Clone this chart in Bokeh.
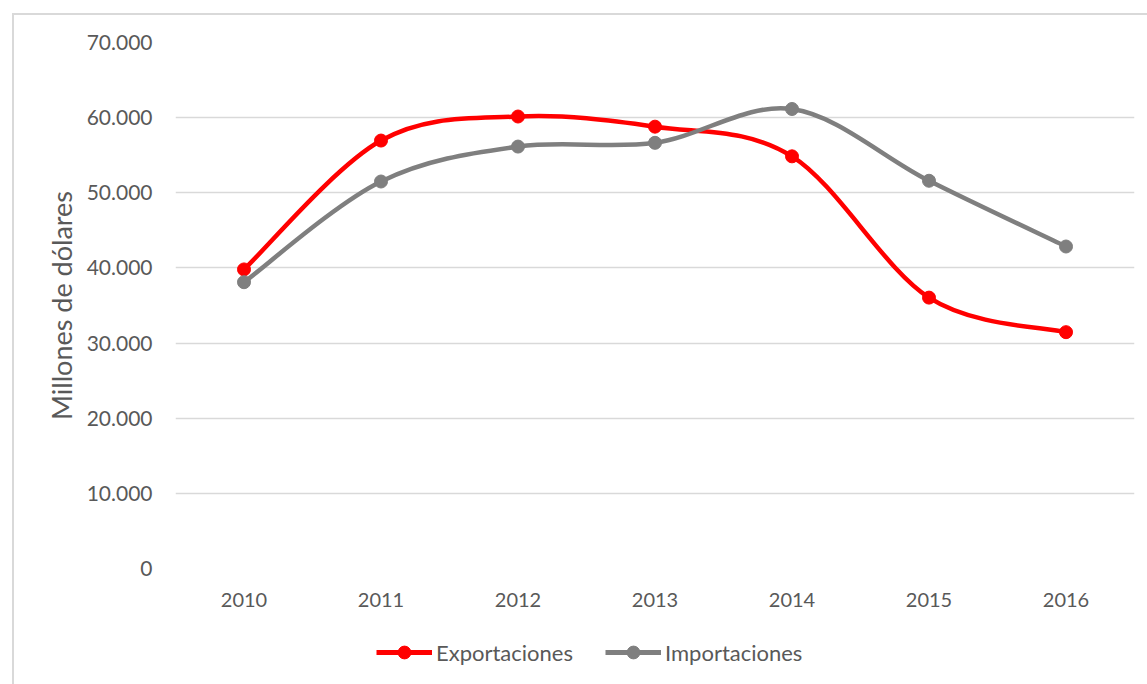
from bokeh.plotting import figure
from bokeh.layouts import column
from bokeh.models import Range1d, FixedTicker, Legend, LegendItem, ColumnDataSource
from bokeh.embed import file_html
from bokeh.resources import INLINE

years = ["2010", "2011", "2012", "2013", "2014", "2015", "2016"]
exportaciones = [39800, 56950, 60150, 58800, 54850, 36050, 31450]
importaciones = [38100, 51500, 56150, 56650, 61150, 51600, 42850]
y_ticks = [0, 10000, 20000, 30000, 40000, 50000, 60000, 70000]
y_tick_labels = ["0", "10.000", "20.000", "30.000", "40.000", "50.000", "60.000", "70.000"]

FONT = "Lato"
TXT = "#595959"
RED = "#FF0000"
GRAY = "#7F7F7F"
LW = 4.5
MS = 13


def smooth_segments(vals):
    # Excel-style smoothed line: cubic Bezier segments between consecutive points
    n = len(vals)
    xs = list(range(n))
    d = dict(x0=[], y0=[], x1=[], y1=[], cx0=[], cy0=[], cx1=[], cy1=[])
    for i in range(n - 1):
        im1 = max(i - 1, 0)
        ip2 = min(i + 2, n - 1)
        d["x0"].append(xs[i]); d["y0"].append(vals[i])
        d["x1"].append(xs[i + 1]); d["y1"].append(vals[i + 1])
        d["cx0"].append(xs[i] + (xs[i + 1] - xs[im1]) / 6)
        d["cy0"].append(vals[i] + (vals[i + 1] - vals[im1]) / 6)
        d["cx1"].append(xs[i + 1] - (xs[ip2] - xs[i]) / 6)
        d["cy1"].append(vals[i + 1] - (vals[ip2] - vals[i]) / 6)
    return ColumnDataSource(d)


LINE_BG_TOP = ("linear-gradient(#d9d9d9,#d9d9d9) 12px 13px / 2px 100% no-repeat, "
               "linear-gradient(#d9d9d9,#d9d9d9) 12px 13px / 100% 2px no-repeat")
LINE_BG_LEFT = "linear-gradient(#d9d9d9,#d9d9d9) 12px 0px / 2px 100% no-repeat"

W, H1, H2 = 1147, 625, 59
p = figure(width=W, height=H1, output_backend="svg", toolbar_location=None,
           x_range=Range1d(-0.5, len(years) - 0.5), y_range=Range1d(0, 70000),
           min_border_left=175, min_border_top=42, min_border_right=13,
           min_border_bottom=57)
p.styles = {"background": LINE_BG_TOP}
p.outline_line_color = None
p.background_fill_color = "white"
p.border_fill_alpha = 0

p.xgrid.grid_line_color = None
p.ygrid.grid_line_color = "#d9d9d9"
p.ygrid.grid_line_width = 1.5
p.ygrid.ticker = FixedTicker(ticks=y_ticks)

p.yaxis.ticker = FixedTicker(ticks=y_ticks)
p.yaxis.major_label_overrides = {t: l for t, l in zip(y_ticks, y_tick_labels)}
p.xaxis.ticker = FixedTicker(ticks=list(range(len(years))))
p.xaxis.major_label_overrides = {i: y for i, y in enumerate(years)}

for ax in (p.xaxis[0], p.yaxis[0]):
    ax.axis_line_color = None
    ax.major_tick_line_color = None
    ax.minor_tick_line_color = None
    ax.major_tick_out = 0
    ax.major_tick_in = 0
    ax.minor_tick_out = 0
    ax.major_label_text_font = FONT
    ax.major_label_text_color = TXT

p.xaxis.major_label_text_font_size = "20px"
p.yaxis.major_label_text_font_size = "21px"
p.xaxis.major_label_standoff = 24
p.yaxis.major_label_standoff = 23
p.yaxis.axis_label = "Millones de dólares"
p.yaxis.axis_label_text_font = FONT
p.yaxis.axis_label_text_font_size = "27px"
p.yaxis.axis_label_text_font_style = "normal"
p.yaxis.axis_label_text_color = TXT
p.yaxis.axis_label_standoff = 6

src_e = smooth_segments(exportaciones)
src_i = smooth_segments(importaciones)
pts = ColumnDataSource(dict(x=list(range(len(years))), e=exportaciones, i=importaciones))

p.bezier(x0="x0", y0="y0", x1="x1", y1="y1", cx0="cx0", cy0="cy0", cx1="cx1", cy1="cy1",
         source=src_e, line_color=RED, line_width=LW, line_cap="round")
p.scatter(x="x", y="e", source=pts, size=MS, fill_color=RED, line_color=RED)
p.bezier(x0="x0", y0="y0", x1="x1", y1="y1", cx0="cx0", cy0="cy0", cx1="cx1", cy1="cy1",
         source=src_i, line_color=GRAY, line_width=LW, line_cap="round")
p.scatter(x="x", y="i", source=pts, size=MS, fill_color=GRAY, line_color=GRAY)

# legend strip below the chart (swatch renderers use the same data, kept out of view)
lg = figure(width=W, height=H2, output_backend="svg", toolbar_location=None,
            x_range=Range1d(1000, 1001), y_range=Range1d(0, 1),
            min_border_left=0, min_border_right=0, min_border_top=0, min_border_bottom=0)
lg.styles = {"background": LINE_BG_LEFT}
lg.outline_line_color = None
lg.background_fill_alpha = 0
lg.border_fill_alpha = 0
lg.axis.visible = False
lg.grid.visible = False
le_l = lg.line(x="x", y="e", source=pts, line_color=RED, line_width=LW + 0.5)
le_p = lg.scatter(x="x", y="e", source=pts, size=MS, fill_color=RED, line_color=RED)
li_l = lg.line(x="x", y="i", source=pts, line_color=GRAY, line_width=LW + 0.5)
li_p = lg.scatter(x="x", y="i", source=pts, size=MS, fill_color=GRAY, line_color=GRAY)

legend = Legend(items=[LegendItem(label="Exportaciones", renderers=[le_l, le_p]),
                       LegendItem(label="Importaciones", renderers=[li_l, li_p])],
                orientation="horizontal", location=(201, 16),
                glyph_width=56, glyph_height=32, label_standoff=4, spacing=32,
                padding=0, margin=0, border_line_color=None,
                background_fill_alpha=0,
                label_text_font=FONT, label_text_font_size="22px",
                label_text_color=TXT)
lg.add_layout(legend, "center")

layout = column(p, lg, spacing=0)
open("out.html", "w").write(file_html(layout, INLINE))
